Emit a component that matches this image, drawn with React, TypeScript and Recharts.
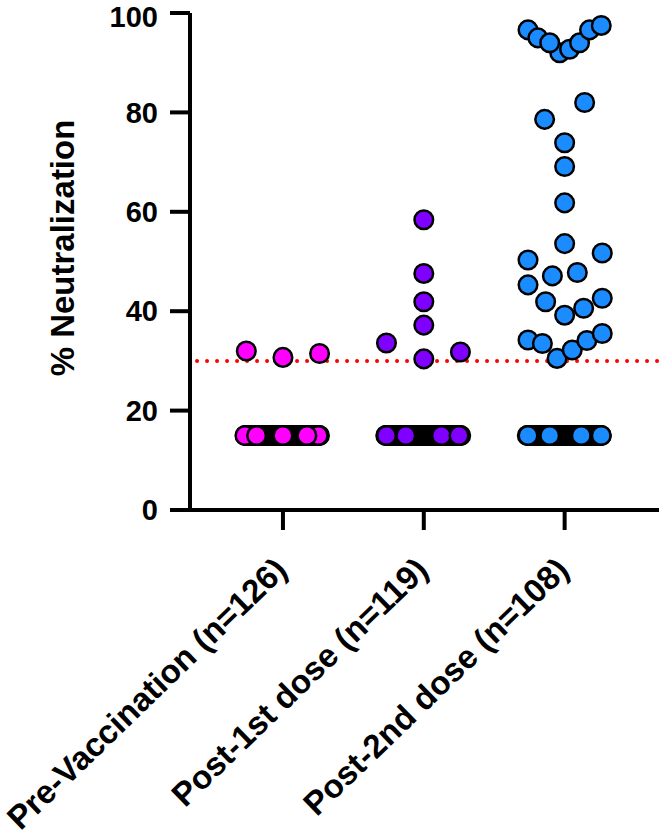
import { ScatterChart, Scatter, XAxis, YAxis, ReferenceLine, Label } from "recharts"

const groups = ["Pre-Vaccination", "Post-1st dose", "Post-2nd dose"]
const groupN = [126, 119, 108]
const tickLabels = groups.map((g, i) => `${g} (n=${groupN[i]})`)
const colors = ["#ff00ff", "#8000ff", "#1a8cff"]

const yTicks = [0, 20, 40, 60, 80, 100]
const cutoff = 30
const floorValue = 15 // everything below detection sits on this row

// values above the floor, in the order they are drawn
const preVaxValues = [32.0, 30.7, 31.5]
const dose1Values = [58.4, 47.6, 41.9, 37.2, 33.6, 30.4, 31.8]
const dose2Values = [
  92.0, 96.6, 95.0, 94.0, 92.7, 94.0, 96.6, 97.5, 82.0, 78.6, 73.9, 69.1, 61.8, 53.6, 50.3,
  51.7, 47.1, 47.8, 45.3, 41.9, 39.2, 40.6, 42.6, 30.5, 34.2, 33.5, 32.2, 34.1, 35.5,
]

// swarm offsets (fractions of one category step)
const preVaxSwarm = [-0.26, 0, 0.26]
const dose1Swarm = [0, 0, 0, 0, -0.265, 0, 0.26]
const dose2Swarm = [
  -0.035, -0.26, -0.19, -0.106, 0.035, 0.106, 0.177, 0.26, 0.142, -0.142, 0, 0, 0, 0, -0.26,
  0.267, -0.087, 0.09, -0.26, -0.135, 0, 0.135, 0.267, -0.054, -0.26, -0.158, 0.054, 0.158, 0.267,
]

// floor row: the dots that sit on top, and the span the rest are packed into
const floorTop = [
  [-0.27, -0.187, 0, 0.25, 0.17],
  [-0.265, -0.128, 0.125, 0.25],
  [-0.26, -0.106, 0.118, 0.26],
]
const floorSpan = [
  [-0.266, 0.259],
  [-0.27, 0.262],
  [-0.265, 0.26],
]

function buildRows(i: number, above: number[], swarm: number[]) {
  const rows: { x: number; y: number }[] = []
  const top = floorTop[i]
  const hidden = groupN[i] - above.length - top.length
  const [a, b] = floorSpan[i]
  for (let k = 0; k < hidden; k++) {
    const t = hidden > 1 ? k / (hidden - 1) : 0.5
    rows.push({ x: i + a + t * (b - a), y: floorValue })
  }
  top.forEach((o) => rows.push({ x: i + o, y: floorValue }))
  above.forEach((v, k) => rows.push({ x: i + swarm[k], y: v }))
  return rows
}

const series = [
  buildRows(0, preVaxValues, preVaxSwarm),
  buildRows(1, dose1Values, dose1Swarm),
  buildRows(2, dose2Values, dose2Swarm),
]

const font = "'Liberation Sans', Arial, sans-serif"

const dotShape = (color: string) => (props: any) => (
  <circle cx={props.cx} cy={props.cy} r={9.3} fill={color} stroke="#000" strokeWidth={2.5} />
)

const CategoryTick = (props: any) => {
  const { x, y, payload } = props
  const ax = x + 6
  const ay = y + 40
  return (
    <text
      x={ax}
      y={ay}
      textAnchor="end"
      transform={`rotate(-44, ${ax}, ${ay})`}
      fontFamily={font}
      fontWeight="bold"
      fontSize={33}
      fill="#000"
    >
      {tickLabels[payload.value]}
    </text>
  )
}

export default function App() {
  return (
    <div style={{ position: "absolute", left: 0, top: 0, width: 661, height: 835, background: "#fff" }}>
      <ScatterChart width={661} height={835} margin={{ top: 13, right: 2, bottom: 0, left: 0 }}>
        <XAxis
          type="number"
          dataKey="x"
          domain={[-0.66, 2.67]}
          ticks={[0, 1, 2]}
          allowDataOverflow
          height={325}
          tickSize={20}
          axisLine={{ stroke: "#000", strokeWidth: 4 }}
          tickLine={{ stroke: "#000", strokeWidth: 4 }}
          tick={<CategoryTick />}
          interval={0}
        />
        <YAxis
          type="number"
          dataKey="y"
          domain={[0, 100]}
          ticks={yTicks}
          width={190}
          tickSize={20}
          tickMargin={12}
          axisLine={{ stroke: "#000", strokeWidth: 4 }}
          tickLine={{ stroke: "#000", strokeWidth: 4 }}
          tick={{ fill: "#000", fontSize: 29, fontWeight: "bold", fontFamily: font }}
        >
          <Label
            content={() => (
              <text
                x={74}
                y={248}
                transform="rotate(-90, 74, 248)"
                textAnchor="middle"
                fontFamily={font}
                fontWeight="bold"
                fontSize={33}
                fill="#000"
              >
                % Neutralization
              </text>
            )}
          />
        </YAxis>
        <ReferenceLine
          segment={[
            { x: -0.61, y: cutoff },
            { x: 2.67, y: cutoff },
          ]}
          stroke="#ff0000"
          strokeWidth={4}
          strokeDasharray="0 10"
          strokeLinecap="round"
        />
        {series.map((rows, i) => (
          <Scatter key={groups[i]} data={rows} shape={dotShape(colors[i])} isAnimationActive={false} />
        ))}
      </ScatterChart>
    </div>
  )
}
